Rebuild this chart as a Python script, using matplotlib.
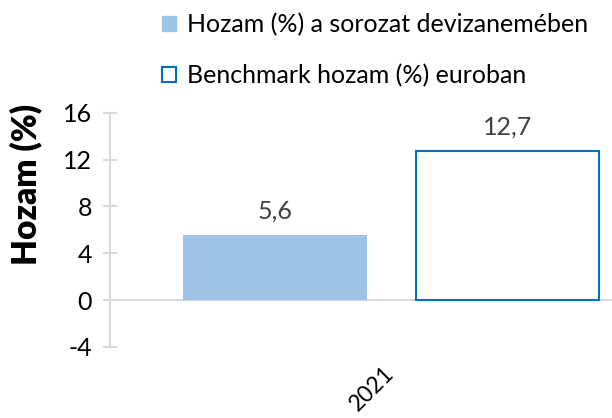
import matplotlib
matplotlib.use('Agg')
import matplotlib.pyplot as plt
from matplotlib.patches import Patch
from matplotlib.transforms import ScaledTranslation

plt.rcParams['font.family'] = ['Lato', 'DejaVu Sans']

# adatok
categories = ['2021']
series_names = ['Hozam (%) a sorozat devizanemében', 'Benchmark hozam (%) euroban']
values = [5.6, 12.7]
labels = ['5,6', '12,7']
yticks = [-4, 0, 4, 8, 12, 16]

fig = plt.figure(figsize=(6.12, 4.18), dpi=100)
ax = fig.add_axes([0.18, 0.17, 0.82, 0.56])

xs = [-0.5, 0.5]
w = 0.79
ax.bar(xs[0], values[0], width=w, color='#9dc3e6', zorder=3)
ax.bar(xs[1], values[1], width=w, facecolor='white', edgecolor='#0070c0', linewidth=1.5, zorder=3)

for x, v, t in zip(xs, values, labels):
    ax.annotate(t, (x, v), xytext=(0, 9), textcoords='offset points',
                ha='center', va='bottom', fontsize=18, color='#404040')

ax.axhline(0, color='#d9d9d9', linewidth=1.5, zorder=2)
ax.set_xlim(-1.21, 0.95)
ax.set_ylim(-4, 16)
ax.set_yticks(yticks)
ax.set_yticklabels([str(t) for t in yticks], fontsize=18)
ax.set_xticks([0])
ax.set_xticklabels(categories, rotation=45, fontsize=16.5, ha='right', va='top', rotation_mode='anchor')
ax.tick_params(axis='x', length=0, pad=20)
ax.tick_params(axis='y', direction='inout', length=10, width=1.5, color='#d9d9d9', pad=8)
# kicsit balra tolva, mint az eredetin
for lab in ax.get_xticklabels():
    lab.set_transform(lab.get_transform() + ScaledTranslation(-6 / 72, 9 / 72, fig.dpi_scale_trans))

for s in ['top', 'right', 'bottom']:
    ax.spines[s].set_visible(False)
ax.spines['left'].set_color('#d9d9d9')
ax.spines['left'].set_linewidth(1.5)

fig.text(0.042, 0.558, 'Hozam (%)', rotation=90, ha='center', va='center', fontsize=24, fontweight='heavy')

handles = [Patch(facecolor='#9dc3e6', edgecolor='#9dc3e6'),
           Patch(facecolor='white', edgecolor='#0070c0', linewidth=1.5)]
fig.legend(handles, series_names, loc='upper left', bbox_to_anchor=(162 / 612, 1 - 13 / 418), frameon=False,
           fontsize=18, handlelength=0.55, handleheight=0.55, handletextpad=0.45, labelspacing=1.1,
           borderpad=0, borderaxespad=0)

fig.savefig('out.png', dpi=100)
